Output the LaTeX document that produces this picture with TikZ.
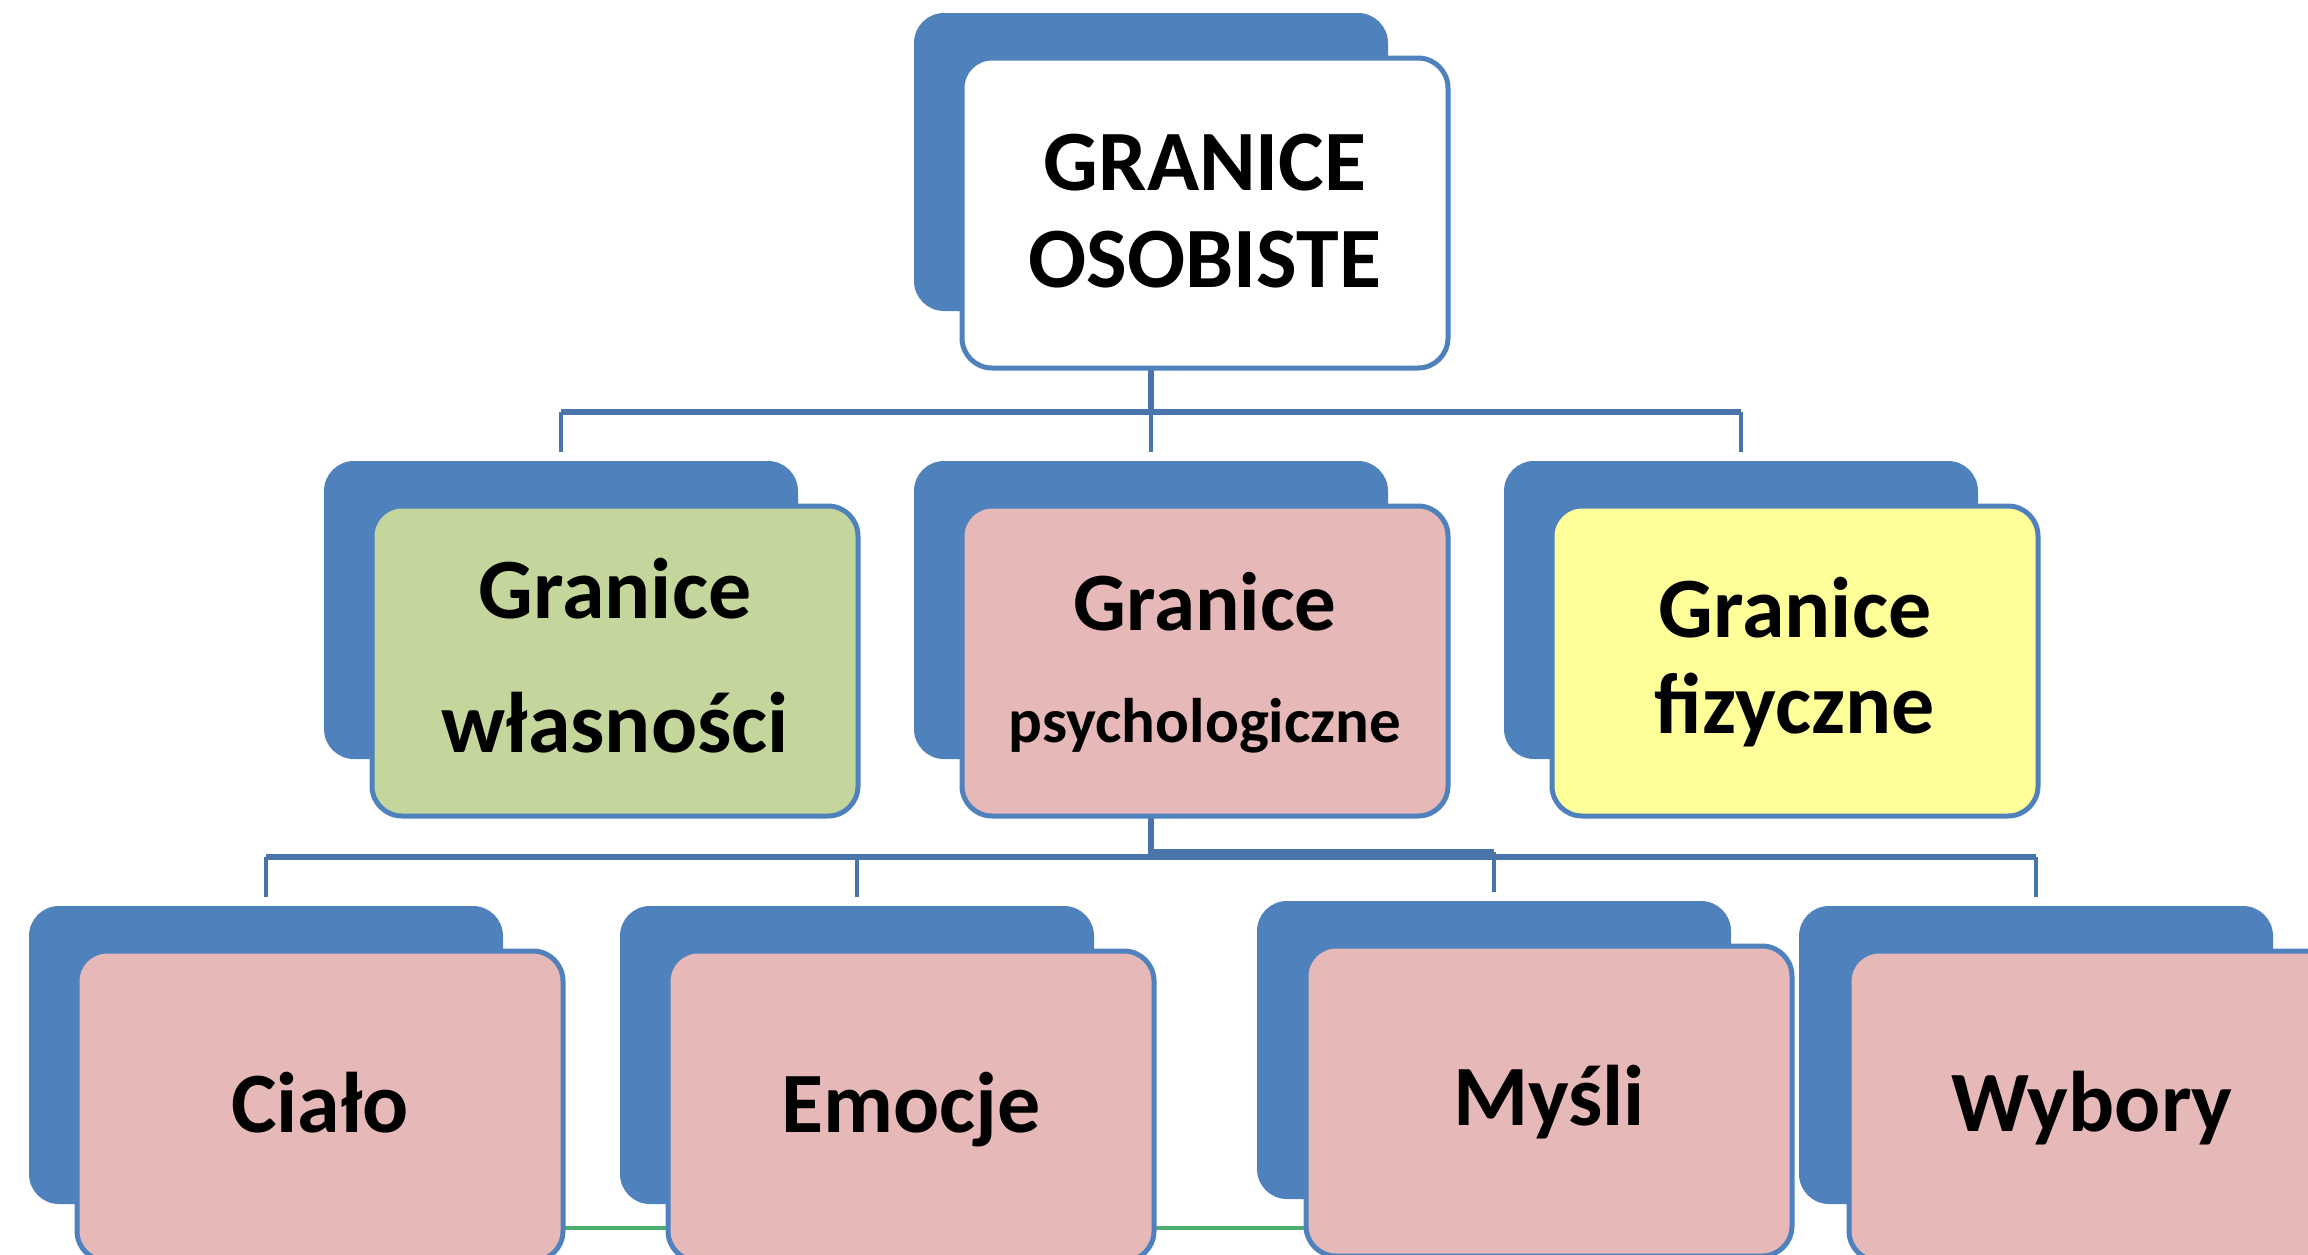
\documentclass[tikz,border=0pt]{standalone}
\usepackage{fontspec}
\setmainfont{Carlito}
\usetikzlibrary{backgrounds}
\definecolor{bback}{RGB}{79,129,189}
\definecolor{bborder}{RGB}{79,129,189}
\definecolor{connc}{RGB}{74,117,170}
\definecolor{fgreen}{RGB}{196,214,155}
\definecolor{fpink}{RGB}{230,184,183}
\definecolor{fyellow}{RGB}{255,255,153}
\definecolor{gline}{RGB}{77,174,112}
\tikzset{
  backbox/.style={rectangle, rounded corners=30pt, fill=bback, draw=none,
    minimum width=474pt, minimum height=298pt, anchor=north west, inner sep=0pt, outer sep=0pt},
  frontbox/.style={rectangle, rounded corners=30pt, draw=bborder, line width=5pt,
    minimum width=486pt, minimum height=310pt, anchor=north west, inner sep=0pt, outer sep=0pt},
  lbl/.style={anchor=base, inner sep=0pt, font=\bfseries\fontsize{86}{86}\selectfont},
  lblsmall/.style={anchor=base, inner sep=0pt, font=\bfseries\fontsize{63}{63}\selectfont},
  conn/.style={draw=connc, line width=5.5pt},
  drop/.style={draw=connc, line width=4pt},
  greenl/.style={draw=gline, line width=4.5pt}
}
\begin{document}
\begin{tikzpicture}[x=1pt,y=-1pt]
\useasboundingbox (0,0) rectangle (2308,1254);
\clip (0,0) rectangle (2308,1254);
% back boxes
\node[backbox] (topB) at (914,13) {};
\node[backbox] (lB) at (324,461) {};
\node[backbox] (mB) at (914,461) {};
\node[backbox] (rB) at (1504,461) {};
\node[backbox] (cB) at (29,906) {};
\node[backbox] (eB) at (620,906) {};
\node[backbox] (yB) at (1257,901) {};
\node[backbox] (wB) at (1799,906) {};
% front boxes
\node[frontbox, fill=white] (top) at (962,58) {};
\node[frontbox, fill=fgreen] (wl) at (372,506) {};
\node[frontbox, fill=fpink] (ps) at (962,506) {};
\node[frontbox, fill=fyellow] (fi) at (1552,506) {};
\node[frontbox, fill=fpink] (ci) at (77,951) {};
\node[frontbox, fill=fpink] (em) at (668,951) {};
\node[frontbox, fill=fpink] (my) at (1306,946) {};
\node[frontbox, fill=fpink] (wy) at (1849,951) {};
% junctions
\coordinate (j1) at (1151,412);
\coordinate (j2) at (1151,857);
\coordinate (j3) at (1151,852);
\coordinate (g) at (0,1228);
% texts
\node[lbl] (t1) at (top.north |- 0,190) {GRANICE};
\node[lbl] (t2) at (top.north |- 0,287) {OSOBISTE};
\node[lbl] (l1) at (wl.north |- 0,618) {Granice};
\node[lbl] (l2) at (wl.north |- 0,752) {własności};
\node[lbl, font=\bfseries\fontsize{83}{83}\selectfont] (p1) at (ps.north |- 0,630) {Granice};
\node[lblsmall] (p2) at (ps.north |- 0,742) {psychologiczne};
\node[lbl] (f1) at (fi.north |- 0,637) {Granice};
\node[lbl] (f2) at (fi.north |- 0,733) {fizyczne};
\node[lbl] (c1) at (ci.north |- 0,1132) {Ciało};
\node[lbl] (e1) at (em.north |- 0,1132) {Emocje};
\node[lbl] (m1) at (my.north |- 0,1125) {Myśli};
\node[lbl] (w1) at (wy.north |- 0,1131) {Wybory};
% connectors and green line, behind boxes
\begin{scope}[on background layer]
\draw[conn] (topB.south |- top.south) -- (j1);
\draw[conn] (lB.north |- j1) -- (rB.north |- j1);
\draw[drop] (lB.north |- j1) -- ([yshift=9pt]lB.north);
\draw[drop] (j1) -- ([yshift=9pt]mB.north);
\draw[drop] (rB.north |- j1) -- ([yshift=9pt]rB.north);
\draw[conn] (mB.south |- ps.south) -- (j2);
\draw[conn] (cB.north |- j2) -- (wB.north |- j2);
\draw[conn] (j3) -- (yB.north |- j3);
\draw[drop] (cB.north |- j2) -- ([yshift=9pt]cB.north);
\draw[drop] (eB.north |- j2) -- ([yshift=9pt]eB.north);
\draw[drop] (yB.north |- j3) -- ([yshift=9pt]yB.north);
\draw[drop] (wB.north |- j2) -- ([yshift=9pt]wB.north);
\draw[greenl] (ci.center |- g) -- (my.center |- g);
\end{scope}
\end{tikzpicture}
\end{document}
